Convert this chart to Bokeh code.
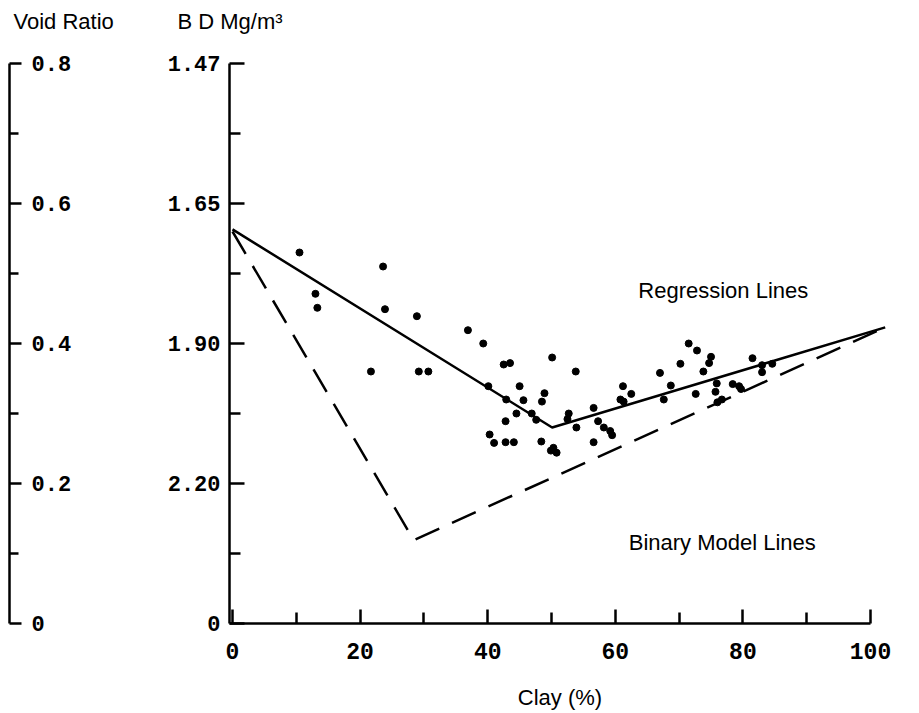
from bokeh.plotting import figure
from bokeh.models import FixedTicker, Range1d, Label
from bokeh.layouts import row
from bokeh.embed import file_html
from bokeh.resources import INLINE

# ---- data ----
clay_pct = [10.5, 23.6, 13.0, 13.3, 23.9, 28.9, 21.7, 29.2, 30.7, 36.9,
            39.3, 42.5, 43.5, 50.1, 53.8, 40.1, 45.0, 42.9, 45.6, 48.9,
            48.5, 44.5, 46.9, 47.6, 52.7, 52.5, 53.9, 42.8, 40.3, 41.0,
            42.8, 44.1, 48.4, 49.9, 50.8, 50.3, 56.6, 57.3, 58.2, 59.2,
            59.5, 56.6, 61.2, 62.5, 60.8, 61.3, 67.0, 68.7, 67.6, 70.2,
            71.5, 72.8, 75.0, 74.7, 73.8, 72.6, 75.9, 75.7, 76.7, 76.0,
            78.4, 79.4, 79.7, 81.5, 83.0, 83.0, 84.6]
void_ratio = [0.530, 0.510, 0.471, 0.451, 0.449, 0.439, 0.360, 0.360, 0.360, 0.419,
              0.400, 0.370, 0.372, 0.380, 0.360, 0.339, 0.339, 0.320, 0.319, 0.329,
              0.317, 0.300, 0.300, 0.291, 0.300, 0.292, 0.280, 0.289, 0.270, 0.258,
              0.259, 0.259, 0.260, 0.247, 0.244, 0.251, 0.308, 0.289, 0.280, 0.275,
              0.269, 0.259, 0.339, 0.328, 0.320, 0.317, 0.358, 0.340, 0.320, 0.371,
              0.400, 0.390, 0.381, 0.372, 0.360, 0.328, 0.343, 0.331, 0.320, 0.316,
              0.342, 0.339, 0.335, 0.379, 0.369, 0.359, 0.371]

reg_clay = [0, 50.1, 102.3]
reg_void = [0.563, 0.280, 0.423]
bin_clay = [0, 28.4, 102.3]
bin_void = [0.560, 0.119, 0.423]

void_ticks = [0, 0.2, 0.4, 0.6, 0.8]
void_minor = [0.1, 0.3, 0.5, 0.7]
void_labels = ["0", "0.2", "0.4", "0.6", "0.8"]
bd_labels = ["0", "2.20", "1.90", "1.65", "1.47"]
clay_ticks = [0, 20, 40, 60, 80, 100]
clay_minor = [10, 30, 50, 70, 90]

MONO = "Liberation Mono"
SANS = "Liberation Sans"
TOP, BOT = 63, 90
H = TOP + 560 + BOT
LW = 2.5


def style_axis(ax, size="22px"):
    ax.axis_line_width = LW
    ax.axis_line_color = "black"
    ax.major_tick_line_width = LW
    ax.minor_tick_line_width = LW
    ax.major_tick_line_color = "black"
    ax.minor_tick_line_color = "black"
    ax.major_label_text_font = MONO
    ax.major_label_text_font_style = "bold"
    ax.major_label_text_font_size = size
    ax.major_label_text_color = "black"


def style_title(t, offset):
    t.align = "left"
    t.offset = offset
    t.standoff = 10
    t.text_font = SANS
    t.text_font_style = "normal"
    t.text_font_size = "22px"
    t.text_color = "black"


# ---- left figure: void ratio axis ----
pa = figure(width=150, height=H, x_range=Range1d(0, 1), y_range=Range1d(0, 0.8),
            x_axis_location=None, y_axis_location="right", toolbar_location=None,
            output_backend="svg", min_border_left=8, min_border_right=141,
            min_border_top=TOP, min_border_bottom=BOT, outline_line_color=None,
            title="Void Ratio\n")
style_title(pa.title, 5)
pa.grid.visible = False
va = pa.yaxis[0]
style_axis(va)
va.ticker = FixedTicker(ticks=void_ticks, minor_ticks=void_minor)
va.major_label_overrides = dict(zip(void_ticks, void_labels))
va.major_tick_out = 12
va.major_tick_in = 0
va.minor_tick_out = 9
va.minor_tick_in = 0
va.major_label_standoff = 10

# ---- main figure ----
pb = figure(width=755, height=H, x_range=Range1d(-0.47, 103.13),
            y_range=Range1d(0, 0.8), toolbar_location=None, output_backend="svg",
            min_border_left=79, min_border_right=15, min_border_top=TOP,
            min_border_bottom=BOT, outline_line_color=None,
            title="B D Mg/m³\n")
style_title(pb.title, -52)
pb.grid.visible = False

ya = pb.yaxis[0]
style_axis(ya)
ya.ticker = FixedTicker(ticks=void_ticks, minor_ticks=void_minor)
ya.major_label_overrides = dict(zip(void_ticks, bd_labels))
ya.major_tick_in = 15
ya.major_tick_out = 0
ya.minor_tick_in = 11
ya.minor_tick_out = 0
ya.major_label_standoff = 9

xa = pb.xaxis[0]
style_axis(xa, "23px")
xa.ticker = FixedTicker(ticks=clay_ticks, minor_ticks=clay_minor)
xa.bounds = (-0.47, 100)
xa.major_tick_in = 14
xa.major_tick_out = 0
xa.minor_tick_in = 11
xa.minor_tick_out = 0
xa.major_label_standoff = 19
xa.axis_label = "Clay (%)"
xa.axis_label_text_font = SANS
xa.axis_label_text_font_style = "normal"
xa.axis_label_text_font_size = "22px"
xa.axis_label_text_color = "black"
xa.axis_label_standoff = 23

pb.line(bin_clay, bin_void, line_color="black", line_width=LW, line_dash="26 14")
pb.line(reg_clay, reg_void, line_color="black", line_width=LW)
pb.scatter(clay_pct, void_ratio, size=7, color="black")

pb.add_layout(Label(x=63.6, y=0.476, text="Regression Lines", text_font=SANS,
                    text_font_size="22px", text_baseline="middle", text_color="black"))
pb.add_layout(Label(x=62.1, y=0.116, text="Binary Model Lines", text_font=SANS,
                    text_font_size="22px", text_baseline="middle", text_color="black"))

layout = row(pa, pb)
open("out.html", "w").write(file_html(layout, INLINE))
